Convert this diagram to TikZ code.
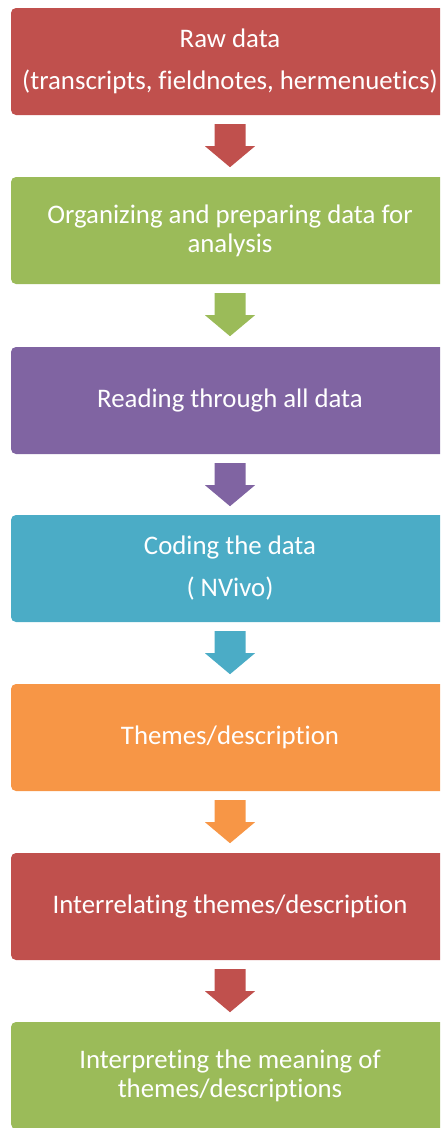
\documentclass[tikz,border=0pt]{standalone}
\usepackage{fontspec}
\setmainfont[Ligatures=CommonOff]{Carlito}
\usetikzlibrary{calc}
\definecolor{cred}{HTML}{C0504D}
\definecolor{cgreen}{HTML}{9BBB59}
\definecolor{cpurple}{HTML}{8064A2}
\definecolor{ccyan}{HTML}{4BACC6}
\definecolor{corange}{HTML}{F79646}
\tikzset{
  stage/.style={rounded corners=5pt, minimum width=438pt, minimum height=107pt,
    inner sep=0pt, text=white, align=center,
    font=\fontsize{26.8}{29}\selectfont},
}
% block arrow hanging below a stage box
\newcommand{\flowarrow}[2]{%
  \fill[#2] ($(#1.south)+(-15.5,-9)$) -- ++(31,0) -- ++(0,-22) -- ++(9.5,0)
    -- ++(-25,-21) -- ++(-25,21) -- ++(9.5,0) -- cycle;}
\begin{document}
\begin{tikzpicture}[x=1pt,y=1pt]
\useasboundingbox (0,0) rectangle (440,-1128);
\clip (0,0) rectangle (440,-1128);
\node[stage, fill=cred]    (s1) at (230,-61.5)  {Raw data\\[13pt](transcripts, fieldnotes, hermenuetics)};
\node[stage, fill=cgreen]  (s2) at (230,-230.5) {Organizing and preparing data for\\analysis};
\node[stage, fill=cpurple] (s3) at (230,-400.5) {Reading through all data};
\node[stage, fill=ccyan]   (s4) at (230,-568.5) {Coding the data\\[13pt]( NVivo)};
\node[stage, fill=corange] (s5) at (230,-737.5) {Themes/description};
\node[stage, fill=cred]    (s6) at (230,-906.5) {Interrelating themes/description};
\node[stage, fill=cgreen]  (s7) at (230,-1075.5) {Interpreting the meaning of\\themes/descriptions};
\flowarrow{s1}{cred}
\flowarrow{s2}{cgreen}
\flowarrow{s3}{cpurple}
\flowarrow{s4}{ccyan}
\flowarrow{s5}{corange}
\flowarrow{s6}{cred}
\end{tikzpicture}
\end{document}
